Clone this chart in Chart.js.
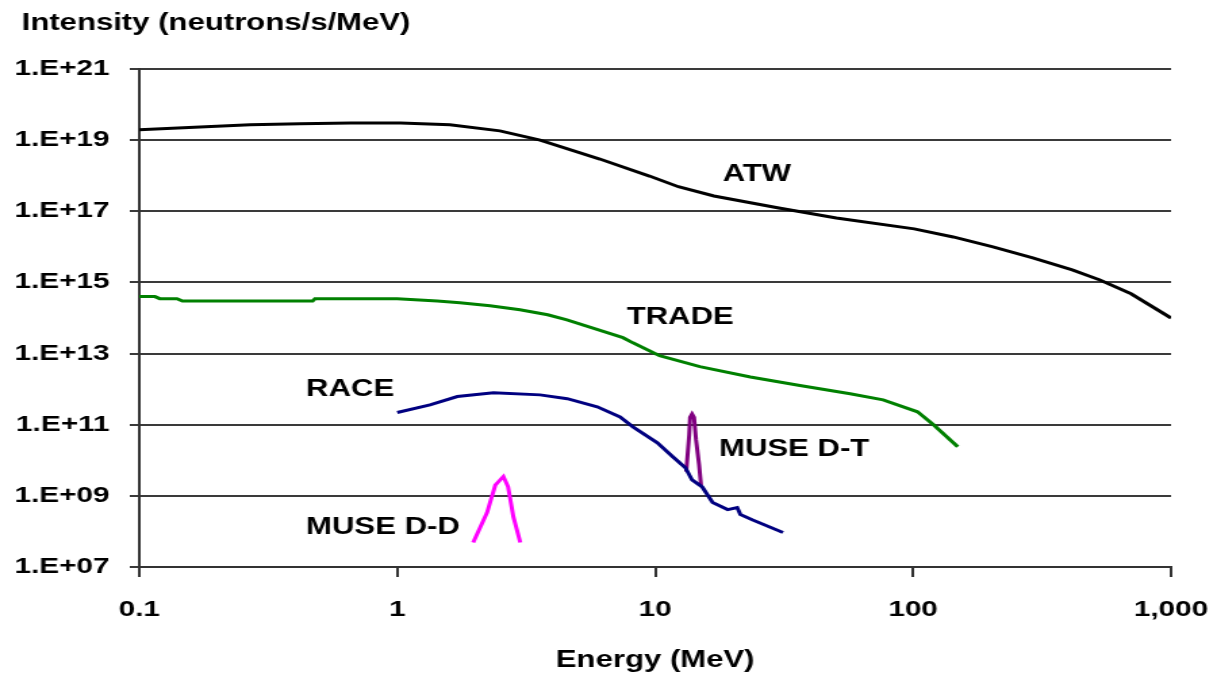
<!DOCTYPE html>
<html>
<head>
<meta charset="utf-8">
<script src="https://cdn.jsdelivr.net/npm/chart.js@4.4.1/dist/chart.umd.min.js"></script>
<style>
  html, body { margin: 0; padding: 0; background: #fff; overflow: hidden; }
  /* the original picture is a narrower chart stretched sideways */
  #wrap { width: 900px; height: 677px; transform: scaleX(1.35222); transform-origin: 0 0; }
</style>
</head>
<body>
<div id="wrap"><canvas id="spectrumChart"></canvas></div>
<script>
// --- data ---
const xTicks = [0.1, 1, 10, 100, 1000];
const yTicks = [1e7, 1e9, 1e11, 1e13, 1e15, 1e17, 1e19, 1e21];

const atwEnergy = [0.1, 0.172, 0.269, 0.42, 0.66, 1.03, 1.6, 2.5, 3.58, 6.1, 9.5, 12.3, 16.9, 29.8, 50.4, 101, 143, 204, 291, 414, 530, 700, 1000];
const atwIntensity = [1.95e19, 2.34e19, 2.69e19, 2.88e19, 3.02e19, 3.02e19, 2.69e19, 1.82e19, 1.0e19, 2.95e18, 9.8e17, 4.9e17, 2.7e17, 1.26e17, 6.5e16, 3.2e16, 1.9e16, 1.0e16, 4.9e15, 2.24e15, 1.17e15, 4.8e14, 1.0e14];

const tradeEnergy = [0.1, 0.115, 0.12, 0.14, 0.147, 0.47, 0.48, 1.0, 1.43, 1.75, 2.29, 2.99, 3.83, 4.55, 5.7, 7.5, 8.2, 10.4, 14.9, 23.4, 36.4, 57, 76.5, 104, 120, 149];
const tradeIntensity = [4.0e14, 4.0e14, 3.5e14, 3.5e14, 3.0e14, 3.0e14, 3.5e14, 3.5e14, 3.0e14, 2.7e14, 2.2e14, 1.7e14, 1.23e14, 8.9e13, 5.3e13, 2.8e13, 2.0e13, 8.7e12, 4.3e12, 2.2e12, 1.26e12, 7.4e11, 5.0e11, 2.3e11, 1.0e11, 2.4e10];

const raceEnergy = [1.0, 1.34, 1.71, 2.36, 3.58, 4.56, 5.96, 7.31, 8.2, 10.2, 11.7, 13.1, 13.9, 15.2, 16.7, 19.1, 20.8, 21.4, 23.9, 31.3];
const raceIntensity = [2.2e11, 3.6e11, 6.2e11, 7.9e11, 6.9e11, 5.4e11, 3.2e11, 1.66e11, 8.7e10, 3.1e10, 1.26e10, 6.2e9, 2.8e9, 1.8e9, 6.5e8, 4.1e8, 4.7e8, 3.0e8, 2.1e8, 9.3e7];

const dtEnergy = [13.2, 13.55, 13.66, 13.9, 14.15, 14.4, 14.8, 15.06];
const dtIntensity = [4.8e9, 5.2e10, 1.6e11, 2.0e11, 1.6e11, 3.8e10, 7.6e9, 2.0e9];

const ddEnergy = [1.97, 2.23, 2.40, 2.58, 2.69, 2.82, 3.0];
const ddIntensity = [4.9e7, 3.4e8, 2.0e9, 3.5e9, 1.8e9, 2.6e8, 4.9e7];

// curve names written next to the curves (energy, intensity)
const curveNames = ['ATW', 'TRADE', 'RACE', 'MUSE D-T', 'MUSE D-D'];
const nameEnergy = [24.8, 12.5, 0.657, 34.6, 0.88];
const nameIntensity = [1.05e18, 1.0e14, 9.5e11, 2.0e10, 1.3e8];

const FONT = '"Liberation Sans", Arial, sans-serif';

function toPoints(xs, ys) {
    return xs.map((x, i) => ({ x: x, y: ys[i] }));
}

function series(label, xs, ys, color) {
    return {
        label: label,
        data: toPoints(xs, ys),
        borderColor: color,
        borderWidth: 3,
        pointRadius: 0,
        tension: 0,
        fill: false
    };
}

// y title at the top left and the curve names
const textPlugin = {
    id: 'texts',
    afterDraw(chart) {
        const ctx = chart.ctx;
        const xs = chart.scales.x;
        const ys = chart.scales.y;
        ctx.save();
        ctx.fillStyle = '#000';
        ctx.font = 'bold 23px ' + FONT;
        ctx.textBaseline = 'middle';
        ctx.textAlign = 'left';
        ctx.fillText('Intensity (neutrons/s/MeV)', 16, 24);
        ctx.textAlign = 'center';
        curveNames.forEach((name, i) => {
            ctx.fillText(name, xs.getPixelForValue(nameEnergy[i]), ys.getPixelForValue(nameIntensity[i]));
        });
        ctx.restore();
    }
};

const ctx = document.getElementById('spectrumChart').getContext('2d');
new Chart(ctx, {
    type: 'line',
    data: {
        datasets: [
            series('ATW', atwEnergy, atwIntensity, '#000000'),
            series('TRADE', tradeEnergy, tradeIntensity, '#008000'),
            series('RACE', raceEnergy, raceIntensity, '#000080'),
            series('MUSE D-T', dtEnergy, dtIntensity, '#800080'),
            series('MUSE D-D', ddEnergy, ddIntensity, '#ff00ff')
        ]
    },
    options: {
        responsive: true,
        maintainAspectRatio: false,
        animation: false,
        layout: { padding: { top: 69, right: 34, left: 0, bottom: 0 } },
        plugins: {
            legend: { display: false },
            tooltip: { enabled: false }
        },
        scales: {
            x: {
                type: 'logarithmic',
                min: 0.1,
                max: 1000,
                afterBuildTicks: s => { s.ticks = xTicks.map(v => ({ value: v })); },
                afterFit: s => { s.height = 110; s.paddingLeft = 0; s.paddingRight = 0; },
                border: { color: '#333', width: 2 },
                grid: { drawOnChartArea: false, drawTicks: true, tickLength: 10, color: '#333', lineWidth: 2 },
                ticks: {
                    color: '#000',
                    padding: 20,
                    maxRotation: 0,
                    autoSkip: false,
                    font: { family: FONT, size: 22, weight: 'bold' },
                    callback: v => v >= 1000 ? v.toLocaleString('en-US') : String(v)
                },
                title: {
                    display: true,
                    text: 'Energy (MeV)',
                    color: '#000',
                    font: { family: FONT, size: 23, weight: 'bold' },
                    padding: { top: 0, bottom: 3 }
                }
            },
            y: {
                type: 'logarithmic',
                min: 1e7,
                max: 1e21,
                afterBuildTicks: s => { s.ticks = yTicks.map(v => ({ value: v })); },
                afterFit: s => { s.width = 103; },
                border: { color: '#333', width: 2 },
                grid: { color: '#3a3a3a', lineWidth: 2, tickLength: 7 },
                ticks: {
                    color: '#000',
                    padding: 15,
                    autoSkip: false,
                    font: { family: FONT, size: 22, weight: 'bold' },
                    callback: v => '1.E+' + String(Math.round(Math.log10(v))).padStart(2, '0')
                }
            }
        }
    },
    plugins: [textPlugin]
});
</script>
</body>
</html>
